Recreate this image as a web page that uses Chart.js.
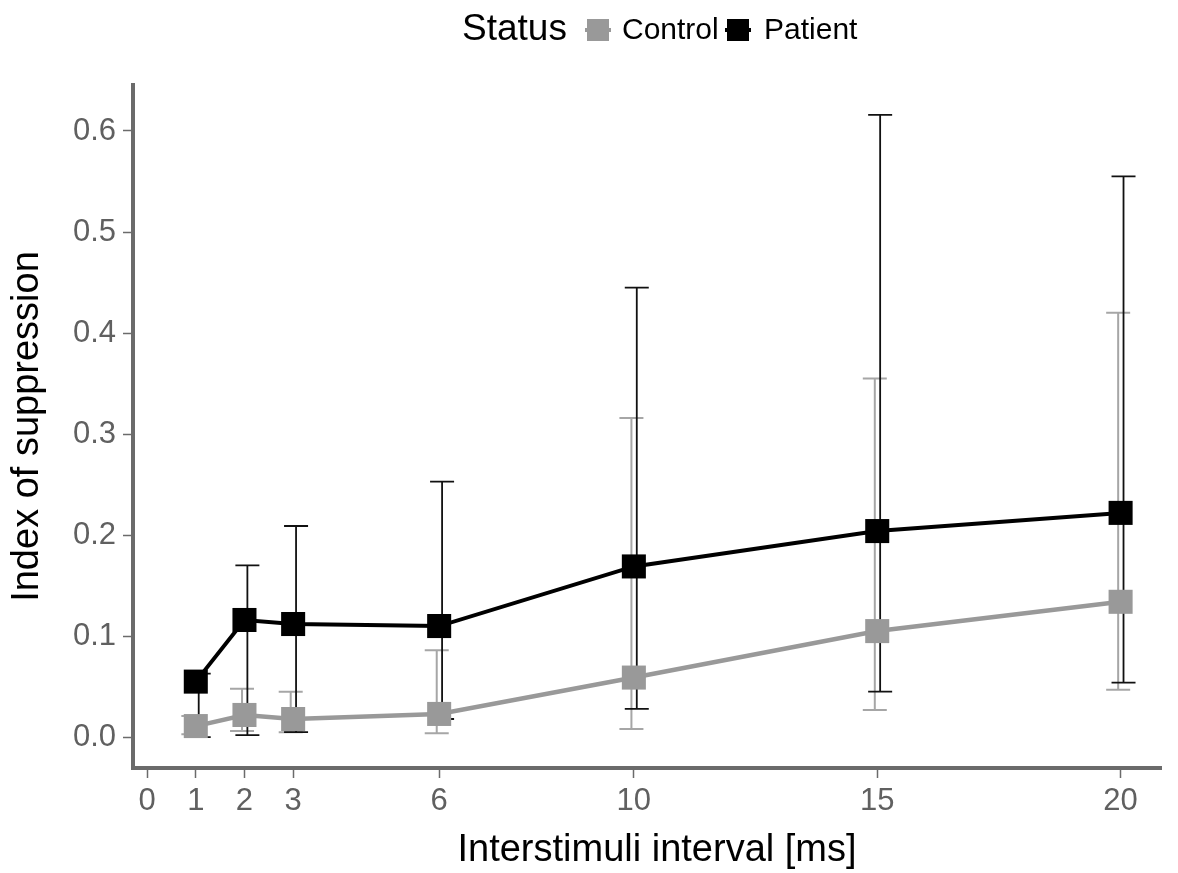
<!DOCTYPE html>
<html lang="en">
<head>
    <meta charset="UTF-8">
    <title>Index of suppression by interstimuli interval</title>
    <script src="https://cdn.jsdelivr.net/npm/chart.js"></script>
    <style>
        body {
            margin: 0;
            background: #ffffff;
        }
        canvas {
            display: block;
        }
    </style>
</head>
<body>
    <canvas id="chart" width="1178" height="873"></canvas>

    <script>
        // interstimuli interval (ms)
        const intervals = [1, 2, 3, 6, 10, 15, 20];
        const xTicks = [0, 1, 2, 3, 6, 10, 15, 20];
        const yTicks = [0, 0.1, 0.2, 0.3, 0.4, 0.5, 0.6];

        const controlMean = [0.011, 0.022, 0.018, 0.023, 0.059, 0.105, 0.134];
        const controlLow  = [0.003, 0.006, 0.005, 0.004, 0.008, 0.027, 0.047];
        const controlHigh = [0.021, 0.048, 0.045, 0.086, 0.316, 0.355, 0.420];

        const patientMean = [0.055, 0.116, 0.112, 0.110, 0.169, 0.204, 0.222];
        const patientLow  = [0.000, 0.002, 0.005, 0.018, 0.028, 0.045, 0.054];
        const patientHigh = [0.063, 0.170, 0.209, 0.253, 0.445, 0.616, 0.555];

        const GREY = '#999999';
        const AXIS = '#6b6b6b';
        const FONT = "'Liberation Sans', Arial, sans-serif";

        const toPoints = (ys) => intervals.map((x, i) => ({ x: x, y: ys[i] }));

        // error bars, drawn under the lines and squares
        const errorBars = {
            id: 'errorBars',
            beforeDatasetsDraw(chart) {
                const ctx = chart.ctx;
                const xs = chart.scales.x;
                const ys = chart.scales.y;
                const groups = [
                    { low: controlLow, high: controlHigh, color: '#a6a6a6', width: 2, dodge: -0.05 },
                    { low: patientLow, high: patientHigh, color: '#111111', width: 1.8, dodge: 0.06 }
                ];
                ctx.save();
                groups.forEach(g => {
                    ctx.strokeStyle = g.color;
                    ctx.lineWidth = g.width;
                    intervals.forEach((x, i) => {
                        const px = xs.getPixelForValue(x + g.dodge);
                        const top = ys.getPixelForValue(g.high[i]);
                        const bot = ys.getPixelForValue(g.low[i]);
                        ctx.beginPath();
                        ctx.moveTo(px, top);
                        ctx.lineTo(px, bot);
                        ctx.moveTo(px - 12, top);
                        ctx.lineTo(px + 12, top);
                        ctx.moveTo(px - 12, bot);
                        ctx.lineTo(px + 12, bot);
                        ctx.stroke();
                    });
                });
                ctx.restore();
            }
        };

        // ggplot style legend on top ("Status [key] Control [key] Patient") and x title
        const topLegend = {
            id: 'topLegend',
            afterDraw(chart) {
                const ctx = chart.ctx;
                const y = 30;
                ctx.save();
                ctx.textBaseline = 'middle';
                ctx.fillStyle = '#000';
                ctx.font = '37px ' + FONT;
                ctx.fillText('Status', 462, y);
                const items = [
                    { label: 'Control', color: GREY, x: 585, tx: 622 },
                    { label: 'Patient', color: '#000000', x: 725, tx: 764 }
                ];
                items.forEach(it => {
                    ctx.strokeStyle = it.color;
                    ctx.lineWidth = 4;
                    ctx.beginPath();
                    ctx.moveTo(it.x, y);
                    ctx.lineTo(it.x + 26, y);
                    ctx.stroke();
                    ctx.fillStyle = it.color;
                    ctx.fillRect(it.x + 2, y - 11, 22, 22);
                    ctx.fillStyle = '#000';
                    ctx.font = '30px ' + FONT;
                    ctx.fillText(it.label, it.tx, y + 1);
                });

                ctx.textAlign = 'center';
                ctx.font = '38px ' + FONT;
                ctx.fillText('Interstimuli interval [ms]', 657, 851);
                ctx.restore();
            }
        };

        const ctx = document.getElementById('chart').getContext('2d');

        const chart = new Chart(ctx, {
            type: 'line',
            data: {
                datasets: [{
                    label: 'Patient',
                    data: toPoints(patientMean),
                    borderColor: '#000000',
                    backgroundColor: '#000000',
                    borderWidth: 4,
                    pointStyle: 'rect',
                    pointRadius: 17,
                    pointBorderWidth: 0,
                    tension: 0,
                    order: 0
                }, {
                    label: 'Control',
                    data: toPoints(controlMean),
                    borderColor: GREY,
                    backgroundColor: GREY,
                    borderWidth: 4.5,
                    pointStyle: 'rect',
                    pointRadius: 17,
                    pointBorderWidth: 0,
                    tension: 0,
                    order: 1
                }]
            },
            options: {
                responsive: false,
                animation: false,
                layout: {
                    padding: { top: 85, right: 13, bottom: 0, left: 0 }
                },
                plugins: {
                    legend: { display: false },
                    tooltip: { enabled: false }
                },
                scales: {
                    x: {
                        type: 'linear',
                        min: -0.29,
                        max: 20.83,
                        afterBuildTicks: (scale) => {
                            scale.ticks = xTicks.map(v => ({ value: v }));
                        },
                        afterFit: (scale) => { scale.height = 105; },
                        border: { display: true, color: AXIS, width: 4 },
                        grid: {
                            drawOnChartArea: false,
                            drawTicks: true,
                            tickLength: 10,
                            tickWidth: 1.5,
                            tickColor: AXIS
                        },
                        ticks: {
                            color: '#606060',
                            padding: 5,
                            maxRotation: 0,
                            autoSkip: false,
                            font: { family: FONT, size: 31 },
                            callback: (v) => v
                        },
                        title: { display: false }
                    },
                    y: {
                        type: 'linear',
                        min: -0.0305,
                        max: 0.6455,
                        afterBuildTicks: (scale) => {
                            scale.ticks = yTicks.map(v => ({ value: v }));
                        },
                        afterFit: (scale) => { scale.width = 133; },
                        border: { display: true, color: AXIS, width: 4 },
                        grid: {
                            drawOnChartArea: false,
                            drawTicks: true,
                            tickLength: 10,
                            tickWidth: 1.5,
                            tickColor: AXIS
                        },
                        ticks: {
                            color: '#606060',
                            padding: 7,
                            font: { family: FONT, size: 31 },
                            callback: (v) => v.toFixed(1)
                        },
                        title: {
                            display: true,
                            text: 'Index of suppression',
                            color: '#000000',
                            padding: { top: 5, bottom: 0 },
                            font: { family: FONT, size: 38 }
                        }
                    }
                }
            },
            plugins: [errorBars, topLegend]
        });
    </script>
</body>
</html>
